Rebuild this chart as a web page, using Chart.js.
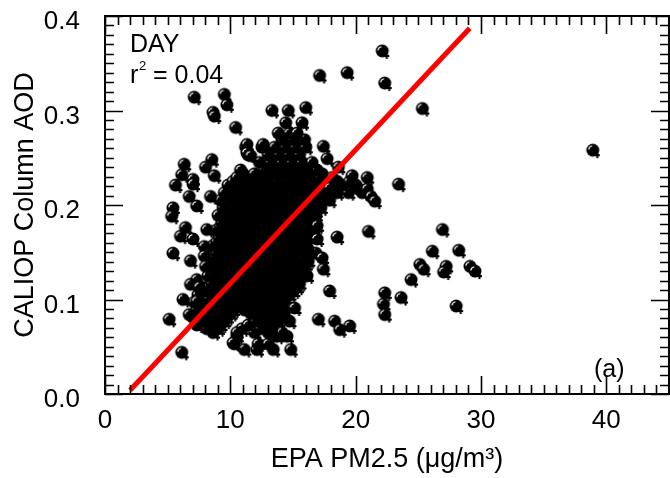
<!DOCTYPE html>
<html>
<head>
<meta charset="utf-8">
<script src="https://cdn.jsdelivr.net/npm/chart.js@4/dist/chart.umd.min.js"></script>
<style>
  html, body { margin: 0; padding: 0; background: #fff; }
  #wrap { width: 670px; height: 478px; }
</style>
</head>
<body>
<div id="wrap"><canvas id="scatter-chart" width="670" height="478"></canvas></div>
<script>
// axis setup
const xTicks = [0, 10, 20, 30, 40];
const yTicks = [0.0, 0.1, 0.2, 0.3, 0.4];

// dense cluster, one AOD level per row with the PM2.5 values on that row
const clusterAod = [0.275, 0.268, 0.26, 0.252, 0.244, 0.24, 0.236, 0.232, 0.228, 0.224,
    0.22, 0.216, 0.212, 0.208, 0.204, 0.2, 0.196, 0.192, 0.188, 0.184,
    0.18, 0.176, 0.172, 0.168, 0.164, 0.16, 0.156, 0.152, 0.148, 0.144,
    0.14, 0.136, 0.132, 0.128, 0.124, 0.12, 0.116, 0.112, 0.108, 0.104,
    0.1, 0.096, 0.092, 0.088, 0.084, 0.08, 0.076, 0.072, 0.068, 0.064,
    0.06, 0.052, 0.046];
const clusterPm = [
    [13.9, 14.8, 15.4],
    [14.2, 15.1, 16.0],
    [11.3, 12.6, 13.6, 14.5, 15.3, 16.1],
    [11.5, 13.1, 14.0, 14.8, 15.6],
    [12.4, 13.3, 14.2, 15.0, 15.8, 16.6],
    [13.0, 13.8, 14.6, 15.4, 16.2],
    [10.9, 12.8, 13.7, 14.6, 15.4, 16.2, 17.0],
    [11.1, 12.0, 12.9, 13.8, 14.6, 15.5, 16.4, 17.4],
    [10.6, 11.5, 12.3, 13.1, 14.0, 14.9, 15.7, 16.5, 17.3, 18.2],
    [10.3, 11.2, 12.1, 13.0, 13.9, 14.8, 15.7, 16.6, 17.5, 18.6, 19.6],
    [9.9, 10.8, 11.7, 12.6, 13.5, 14.4, 15.2, 16.1, 17.0, 17.8, 19.0, 20.1],
    [10.1, 11.0, 11.9, 12.8, 13.7, 14.6, 15.5, 16.4, 17.2, 18.1, 20.3, 21.0],
    [9.6, 10.5, 11.3, 12.2, 13.1, 14.0, 14.8, 15.7, 16.6, 17.5, 18.6, 19.5, 20.6],
    [9.8, 10.7, 11.6, 12.5, 13.4, 14.3, 15.2, 16.0, 16.9, 17.8],
    [9.3, 10.1, 11.0, 11.9, 12.8, 13.6, 14.5, 15.4, 16.2, 17.1, 18.0],
    [9.7, 10.6, 11.5, 12.4, 13.3, 14.2, 15.0, 15.9, 16.8],
    [9.5, 10.4, 11.3, 12.1, 13.0, 13.9, 14.8, 15.6, 16.5, 17.3],
    [9.9, 10.8, 11.7, 12.5, 13.4, 14.3, 15.2, 16.0, 16.9],
    [9.1, 10.0, 10.8, 11.7, 12.6, 13.4, 14.3, 15.2, 16.0, 16.9],
    [9.6, 10.5, 11.4, 12.3, 13.1, 14.0, 14.9, 15.8, 16.7],
    [9.4, 10.3, 11.2, 12.0, 12.9, 13.8, 14.6, 15.5, 16.4],
    [9.3, 10.2, 11.1, 11.9, 12.8, 13.7, 14.6, 15.4, 16.3],
    [8.9, 9.8, 10.7, 11.5, 12.4, 13.3, 14.1, 15.0, 15.9, 16.8],
    [9.4, 10.3, 11.2, 12.1, 13.0, 13.8, 14.7, 15.6, 16.5],
    [9.2, 10.1, 11.0, 11.9, 12.7, 13.6, 14.5, 15.3, 16.2],
    [9.0, 9.8, 10.7, 11.6, 12.5, 13.3, 14.2, 15.1, 15.9],
    [8.7, 9.6, 10.5, 11.4, 12.2, 13.1, 14.0, 14.8, 15.7],
    [9.2, 10.1, 11.0, 11.9, 12.8, 13.6, 14.5, 15.4, 16.3],
    [9.0, 9.9, 10.8, 11.6, 12.5, 13.4, 14.3, 15.1, 16.0, 16.9],
    [8.9, 9.8, 10.7, 11.5, 12.4, 13.3, 14.1, 15.0, 15.9],
    [8.5, 9.4, 10.3, 11.1, 12.0, 12.9, 13.7, 14.6, 15.5, 16.3],
    [9.1, 10.0, 10.9, 11.8, 12.7, 13.5, 14.4, 15.3, 16.1],
    [8.8, 9.7, 10.6, 11.5, 12.3, 13.2, 14.1, 14.9, 15.8],
    [8.6, 9.5, 10.4, 11.3, 12.1, 13.0, 13.9, 14.8, 15.6],
    [8.3, 9.2, 10.1, 11.0, 11.8, 12.7, 13.6, 14.4, 15.3, 16.2],
    [7.4, 8.9, 9.8, 10.7, 11.6, 12.4, 13.3, 14.2, 15.0],
    [8.6, 9.5, 10.4, 11.3, 12.1, 13.0, 13.9, 14.7, 15.6],
    [7.8, 8.4, 9.3, 10.1, 11.0, 11.9, 12.8, 13.6, 14.5, 15.4],
    [8.1, 9.0, 9.9, 10.8, 11.6, 12.5, 13.4, 14.2, 15.1],
    [7.5, 8.7, 9.6, 10.5, 11.4, 12.2, 13.1, 14.0, 14.8],
    [8.4, 9.3, 10.2, 11.1, 11.9, 12.8, 13.7, 14.5],
    [7.2, 8.2, 9.1, 10.0, 10.9, 11.7, 12.6, 13.5, 14.3],
    [7.9, 8.8, 9.7, 10.6, 11.4, 12.3, 13.2, 14.0],
    [7.4, 8.5, 9.4, 10.3, 11.2, 12.0, 12.9, 13.8],
    [7.6, 8.3, 9.2, 10.1, 11.7, 12.6, 13.5, 14.4],
    [7.1, 8.0, 8.9, 9.8, 12.3, 13.2, 14.1],
    [7.9, 8.7, 9.6, 12.1, 13.0, 13.9, 14.8],
    [7.4, 8.4, 9.3, 11.5, 12.7],
    [8.2, 9.1, 11.0, 12.5, 13.4],
    [8.7, 12.0, 13.1, 14.2],
    [10.6, 13.8, 14.6],
    [10.4, 12.3, 13.1],
    [11.2, 12.2, 13.5, 14.9]
];

// scattered points around the cluster
const scatterPm = [22.2, 17.2, 19.4, 22.4, 7.2, 9.6, 9.8, 8.7, 8.8, 25.4,
    39.0, 10.5, 13.4, 14.7, 16.1, 14.5, 15.8, 11.4, 11.4, 11.7,
    12.7, 17.5, 17.8, 6.4, 8.6, 8.1, 8.8, 6.2, 7.1, 7.1,
    5.7, 18.7, 19.8, 21.0, 23.5, 21.3, 21.6, 8.5, 6.8, 7.4,
    5.5, 5.4, 6.5, 6.1, 8.2, 7.1, 8.0, 5.5, 6.9, 8.0,
    8.1, 6.9, 7.6, 6.3, 7.4, 5.2, 6.8, 6.2, 10.3, 10.6,
    15.2, 17.1, 18.4, 18.8, 19.6, 22.4, 22.3, 22.4, 23.7, 28.1,
    21.1, 18.6, 18.0, 17.4, 17.5, 27.0, 26.2, 28.3, 25.2, 25.5,
    27.3, 27.1, 29.2, 29.6, 24.5, 17.0, 17.0, 18.0];
const scatterAod = [0.362, 0.336, 0.339, 0.328, 0.313, 0.316, 0.305, 0.297, 0.293, 0.301,
    0.257, 0.281, 0.299, 0.299, 0.302, 0.286, 0.286, 0.263, 0.254, 0.251,
    0.263, 0.261, 0.248, 0.242, 0.247, 0.239, 0.230, 0.231, 0.226, 0.221,
    0.220, 0.239, 0.230, 0.228, 0.221, 0.208, 0.203, 0.208, 0.208, 0.198,
    0.196, 0.187, 0.175, 0.166, 0.173, 0.163, 0.155, 0.148, 0.140, 0.145,
    0.134, 0.115, 0.112, 0.099, 0.097, 0.078, 0.083, 0.043, 0.053, 0.064,
    0.090, 0.078, 0.076, 0.067, 0.071, 0.106, 0.094, 0.083, 0.101, 0.092,
    0.171, 0.165, 0.108, 0.143, 0.131, 0.173, 0.150, 0.151, 0.136, 0.131,
    0.134, 0.128, 0.134, 0.129, 0.120, 0.177, 0.163, 0.217];

// regression line end points
const fitPm = [2.0, 29.1];
const fitAod = [0.004, 0.387];

// lower rows first so the upper balls sit on top, as in the plot
const pointData = [];
for (let i = clusterAod.length - 1; i >= 0; i--) {
    clusterPm[i].forEach(pm => pointData.push({ x: pm, y: clusterAod[i] }));
}
scatterPm.forEach((pm, i) => pointData.push({ x: pm, y: scatterAod[i] }));
const fitData = fitPm.map((pm, i) => ({ x: pm, y: fitAod[i] }));

// shaded ball marker
function makeMarker() {
    const c = document.createElement('canvas');
    c.width = 18;
    c.height = 18;
    const g = c.getContext('2d');
    g.fillStyle = '#000';
    g.fillRect(10, 12, 5, 2);
    g.fillRect(11.5, 10, 2, 6);
    g.beginPath();
    g.arc(8, 8, 6.5, 0, Math.PI * 2);
    g.fill();
    g.strokeStyle = '#fff';
    g.lineWidth = 1.2;
    g.beginPath();
    g.arc(8, 8, 4.3, Math.PI * 1.05, Math.PI * 1.45);
    g.stroke();
    return c;
}

const FONT = 'Liberation Sans, Arial, Helvetica, sans-serif';

const frameTicks = {
    id: 'frameTicks',
    afterDraw(chart) {
        const { ctx, chartArea: a, scales } = chart;
        const xs = scales.x, ys = scales.y;
        ctx.save();
        ctx.strokeStyle = '#000';
        ctx.lineWidth = 1.6;
        for (let v = 0; v <= 45; v++) {
            const px = Math.round(xs.getPixelForValue(v)) + 0.5;
            const len = v % 10 === 0 ? 18 : 9;
            ctx.beginPath();
            ctx.moveTo(px, a.bottom); ctx.lineTo(px, a.bottom - len);
            ctx.moveTo(px, a.top); ctx.lineTo(px, a.top + len);
            ctx.stroke();
        }
        for (let k = 0; k <= 40; k++) {
            const py = Math.round(ys.getPixelForValue(k / 100)) + 0.5;
            const len = k % 10 === 0 ? 18 : 9;
            ctx.beginPath();
            ctx.moveTo(a.left, py); ctx.lineTo(a.left + len, py);
            ctx.moveTo(a.right, py); ctx.lineTo(a.right - len, py);
            ctx.stroke();
        }
        ctx.lineWidth = 2;
        ctx.strokeRect(a.left, a.top, a.right - a.left, a.bottom - a.top);

        ctx.fillStyle = '#000';
        ctx.textBaseline = 'alphabetic';
        ctx.font = '25px ' + FONT;
        ctx.fillText('DAY', 130, 52);
        ctx.fillText('r', 130, 83);
        ctx.font = '13px ' + FONT;
        ctx.fillText('2', 139, 70);
        ctx.font = '25px ' + FONT;
        ctx.fillText('= 0.04', 153, 83);
        ctx.fillText('(a)', 594, 377);
        ctx.restore();
    }
};

const ctx = document.getElementById('scatter-chart').getContext('2d');
new Chart(ctx, {
    type: 'scatter',
    data: {
        datasets: [{
            label: 'fit',
            data: fitData,
            showLine: true,
            borderColor: '#ff0000',
            borderWidth: 5,
            pointRadius: 0,
            order: 0
        }, {
            label: 'DAY',
            data: pointData,
            pointStyle: makeMarker(),
            pointRadius: 7,
            order: 1
        }]
    },
    options: {
        responsive: false,
        animation: false,
        events: [],
        layout: { autoPadding: false, padding: { top: 16, right: 1, left: 0, bottom: 0 } },
        plugins: {
            legend: { display: false },
            tooltip: { enabled: false }
        },
        scales: {
            x: {
                type: 'linear',
                min: 0,
                max: 45,
                afterFit: s => {
                    s.height = 84;
                    s.paddingLeft = 0;
                    s.paddingRight = 0;
                },
                afterBuildTicks: s => { s.ticks = xTicks.map(v => ({ value: v })); },
                grid: { display: false, drawTicks: false, tickLength: 0 },
                border: { display: false },
                ticks: {
                    color: '#000',
                    padding: 11,
                    maxRotation: 0,
                    font: { family: FONT, size: 26 }
                },
                title: {
                    display: true,
                    text: 'EPA PM2.5 (\u03bcg/m\u00b3)',
                    color: '#000',
                    font: { family: FONT, size: 27 },
                    padding: { top: 0, bottom: 2 }
                }
            },
            y: {
                type: 'linear',
                min: 0,
                max: 0.4,
                afterFit: s => {
                    s.width = 105;
                    s.paddingTop = 0;
                    s.paddingBottom = 0;
                },
                afterBuildTicks: s => { s.ticks = yTicks.map(v => ({ value: v })); },
                grid: { display: false, drawTicks: false, tickLength: 0 },
                border: { display: false },
                ticks: {
                    color: '#000',
                    padding: 25,
                    labelOffset: 6,
                    font: { family: FONT, size: 26 },
                    callback: v => v.toFixed(1)
                },
                title: {
                    display: true,
                    text: 'CALIOP Column AOD',
                    color: '#000',
                    font: { family: FONT, size: 27 },
                    padding: { top: 9, bottom: 0 }
                }
            }
        }
    },
    plugins: [frameTicks]
});
</script>
</body>
</html>
